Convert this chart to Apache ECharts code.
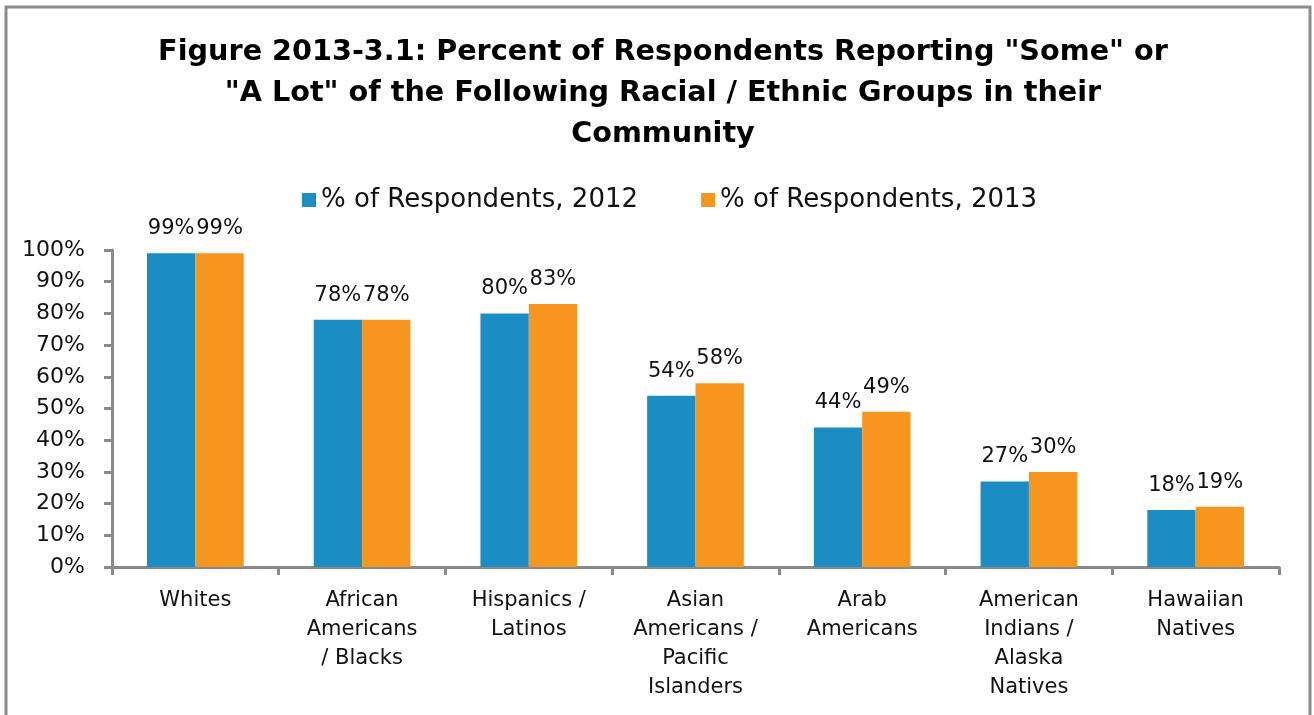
<!DOCTYPE html>
<html>
<head>
<meta charset="utf-8">
<script src="https://cdn.jsdelivr.net/npm/echarts@6/dist/echarts.min.js"></script>
<style>
  html, body { margin: 0; padding: 0; background: #fff; }
  #chart { width: 1314px; height: 715px; }
</style>
</head>
<body>
<div id="chart"></div>
<script>
// Racial / ethnic groups reported in respondents' communities
const categories = [
  'Whites',
  'African\nAmericans\n/ Blacks',
  'Hispanics /\nLatinos',
  'Asian\nAmericans /\nPacific\nIslanders',
  'Arab\nAmericans',
  'American\nIndians /\nAlaska\nNatives',
  'Hawaiian\nNatives'
];
const seriesNames = ['% of Respondents, 2012', '% of Respondents, 2013'];
const values2012 = [99, 78, 80, 54, 44, 27, 18];
const values2013 = [99, 78, 83, 58, 49, 30, 19];
const yTicks = { min: 0, max: 100, interval: 10 };

const titleText = 'Figure 2013-3.1: Percent of Respondents Reporting "Some" or\n' +
  '"A Lot" of the Following Racial / Ethnic Groups in their\n' +
  'Community';

const FONT = 'DejaVu Sans';
const AXIS_GRAY = '#8a8a8a';
const BLUE = '#1a8dc4';
const ORANGE = '#f7961f';
const TEXT = '#111111';

const chart = echarts.init(document.getElementById('chart'), null, { renderer: 'canvas' });

const labelStyle = {
  show: true,
  position: 'top',
  distance: 14,
  formatter: p => p.value + '%',
  fontFamily: FONT,
  fontSize: 21,
  color: TEXT
};

chart.setOption({
  animation: false,
  backgroundColor: '#ffffff',
  graphic: [{
    type: 'rect',
    shape: { x: 6, y: 7, width: 1304, height: 740 },
    style: { fill: 'none', stroke: '#8c8c8c', lineWidth: 3 },
    silent: true,
    z: 100
  }],
  title: {
    text: titleText,
    left: 658,
    top: 27,
    textAlign: 'center',
    textStyle: {
      fontFamily: FONT,
      fontWeight: 'bold',
      fontSize: 28.7,
      lineHeight: 41,
      color: '#000'
    }
  },
  legend: {
    top: 182,
    left: 297,
    icon: 'rect',
    itemWidth: 14,
    itemHeight: 14,
    itemGap: 63,
    textStyle: { fontFamily: FONT, fontSize: 26, color: TEXT },
    data: seriesNames
  },
  grid: { left: 112, right: 35, top: 250, bottom: 148, containLabel: false },
  xAxis: {
    type: 'category',
    data: categories,
    axisLine: { lineStyle: { color: AXIS_GRAY, width: 3 } },
    axisTick: { show: true, length: 8, lineStyle: { color: AXIS_GRAY, width: 3 } },
    axisLabel: {
      interval: 0,
      margin: 19,
      fontFamily: FONT,
      fontSize: 21,
      lineHeight: 29,
      color: TEXT
    }
  },
  yAxis: {
    type: 'value',
    min: yTicks.min,
    max: yTicks.max,
    interval: yTicks.interval,
    splitLine: { show: false },
    axisLine: { show: true, lineStyle: { color: AXIS_GRAY, width: 3 } },
    axisTick: { show: true, length: 8, lineStyle: { color: AXIS_GRAY, width: 3 } },
    axisLabel: {
      margin: 27,
      formatter: '{value}%',
      fontFamily: FONT,
      fontSize: 22,
      color: TEXT
    }
  },
  series: [
    {
      name: seriesNames[0],
      type: 'bar',
      data: values2012,
      barGap: '0%',
      barCategoryGap: '42%',
      itemStyle: { color: BLUE },
      label: labelStyle
    },
    {
      name: seriesNames[1],
      type: 'bar',
      data: values2013,
      itemStyle: { color: ORANGE },
      label: labelStyle
    }
  ]
});
</script>
</body>
</html>
